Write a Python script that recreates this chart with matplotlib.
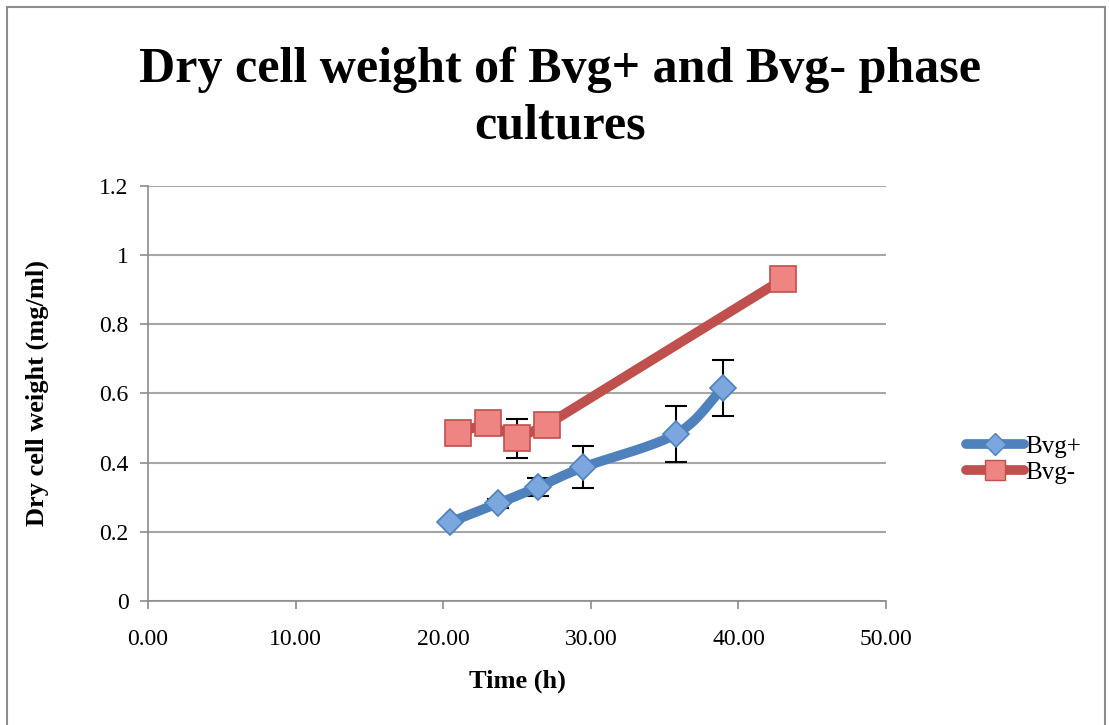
import numpy as np
import matplotlib.pyplot as plt
from matplotlib.patches import Rectangle
from matplotlib.lines import Line2D

# Datos
t_pos = [20.46, 23.7, 26.45, 29.5, 35.77, 38.96]
w_pos = [0.228, 0.282, 0.330, 0.387, 0.483, 0.616]
e_pos = [0.0, 0.012, 0.027, 0.060, 0.081, 0.080]

t_neg = [21.0, 23.0, 25.0, 27.0, 43.0]
w_neg = [0.486, 0.514, 0.470, 0.509, 0.930]
e_neg = [0.0, 0.0, 0.057, 0.0, 0.0]

x_ticks = [0, 10, 20, 30, 40, 50]
y_ticks = [0, 0.2, 0.4, 0.6, 0.8, 1.0, 1.2]
y_labels = ["0", "0.2", "0.4", "0.6", "0.8", "1", "1.2"]

blue = "#4F81BD"
blue_face = "#7BA7DE"
red = "#C0504D"
red_face = "#EE8583"

plt.rcParams["font.family"] = ["Liberation Serif", "DejaVu Serif"]


# Curva suavizada (Catmull-Rom) como la línea suavizada de Excel
def smooth(x, y, n=30):
    x = np.asarray(x, float)
    y = np.asarray(y, float)
    px = np.concatenate([[2 * x[0] - x[1]], x, [2 * x[-1] - x[-2]]])
    py = np.concatenate([[2 * y[0] - y[1]], y, [2 * y[-1] - y[-2]]])
    xs, ys = [], []
    s = np.linspace(0, 1, n)
    for i in range(1, len(px) - 2):
        for p, out in ((px, xs), (py, ys)):
            p0, p1, p2, p3 = p[i - 1], p[i], p[i + 1], p[i + 2]
            out.extend(0.5 * ((2 * p1) + (-p0 + p2) * s
                              + (2 * p0 - 5 * p1 + 4 * p2 - p3) * s ** 2
                              + (-p0 + 3 * p1 - 3 * p2 + p3) * s ** 3))
    return np.array(xs), np.array(ys)


fig = plt.figure(figsize=(11.09, 7.25), dpi=100)
fig.patches.append(Rectangle((0.006, -0.01), 0.99, 1.0, transform=fig.transFigure,
                             fill=False, edgecolor="#8C8C8C", linewidth=1.5))
ax = fig.add_axes([0.1335, 0.171, 0.6655, 0.5725])

# Barras de error
ax.errorbar(t_pos, w_pos, yerr=e_pos, fmt="none", ecolor="black", elinewidth=1.5,
            capsize=8, capthick=1.5, zorder=2)
ax.errorbar(t_neg, w_neg, yerr=e_neg, fmt="none", ecolor="black", elinewidth=1.5,
            capsize=8, capthick=1.5, zorder=2)

sx, sy = smooth(t_pos, w_pos)
ax.plot(sx, sy, color=blue, linewidth=7, solid_capstyle="round", zorder=3)
ax.plot(t_pos, w_pos, linestyle="none", marker="D", markersize=13,
        markerfacecolor=blue_face, markeredgecolor=blue, markeredgewidth=1.2, zorder=4)

ax.plot(t_neg, w_neg, color=red, linewidth=7, solid_capstyle="round", zorder=3)
ax.plot(t_neg, w_neg, linestyle="none", marker="s", markersize=19,
        markerfacecolor=red_face, markeredgecolor=red, markeredgewidth=1.2, zorder=4)

ax.set_xlim(0, 50)
ax.set_ylim(0, 1.2)
ax.set_xticks(x_ticks)
ax.set_xticklabels([f"{v:.2f}" for v in x_ticks], fontsize=17)
ax.set_yticks(y_ticks)
ax.set_yticklabels(y_labels, fontsize=17)
ax.tick_params(axis="both", colors="#8C8C8C", labelcolor="black", length=6, width=1.2)
ax.tick_params(axis="x", pad=14)
ax.tick_params(axis="y", pad=8)
ax.grid(axis="y", color="#A6A6A6", linewidth=1.5)
ax.set_axisbelow(True)
for side in ["top", "right"]:
    ax.spines[side].set_visible(False)
for side in ["left", "bottom"]:
    ax.spines[side].set_color("#8C8C8C")
    ax.spines[side].set_linewidth(1.2)

ax.set_xlabel("Time (h)", fontsize=19, fontweight="bold", labelpad=14)
ax.set_ylabel("Dry cell weight (mg/ml)", fontsize=19, fontweight="bold", labelpad=36)

fig.text(0.505, 0.865, "Dry cell weight of Bvg+ and Bvg- phase\ncultures", ha="center",
         va="center", fontsize=36, fontweight="bold", linespacing=1.3)

handles = [
    Line2D([], [], color=blue, linewidth=7, solid_capstyle="round", marker="D", markersize=11,
           markerfacecolor=blue_face, markeredgecolor=blue),
    Line2D([], [], color=red, linewidth=7, solid_capstyle="round", marker="s", markersize=14,
           markerfacecolor=red_face, markeredgecolor=red),
]
fig.legend(handles, ["Bvg+", "Bvg-"], loc="center left", bbox_to_anchor=(0.851, 0.366),
           frameon=False, fontsize=18, handlelength=2.3, handletextpad=0.05, labelspacing=0.15)

plt.savefig("out.png", dpi=100)
